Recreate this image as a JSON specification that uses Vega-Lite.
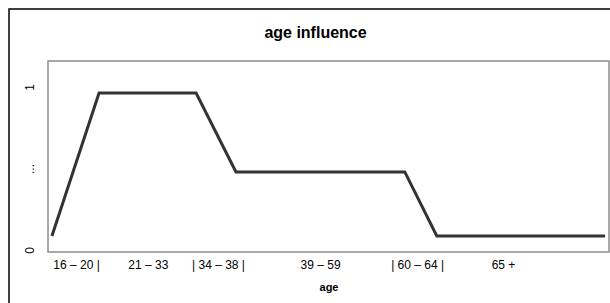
{
  "$schema": "https://vega.github.io/schema/vega-lite/v6.json",
  "autosize": {"type": "none"},
  "padding": {"left": 48, "top": 61, "right": 1, "bottom": 51},
  "width": 561,
  "height": 191,
  "background": "white",
  "title": {"text": "age influence", "fontSize": 16, "fontWeight": "bold", "font": "Liberation Sans", "color": "#000", "anchor": "middle", "frame": "group", "dx": -13, "offset": -33},
  "config": {
    "view": {"stroke": "#8c8c8c", "strokeWidth": 1.5},
    "font": "Liberation Sans"
  },
  "datasets": {
    "curve": [
      {"pos": 0.7, "influence": 0.086},
      {"pos": 9.1, "influence": 0.963},
      {"pos": 26.4, "influence": 0.963},
      {"pos": 33.5, "influence": 0.479},
      {"pos": 63.6, "influence": 0.479},
      {"pos": 69.3, "influence": 0.086},
      {"pos": 99.3, "influence": 0.086}
    ],
    "frame": [
      {"x": -6.95, "x2": 115, "y": -0.8, "y2": 1.4785}
    ]
  },
  "layer": [
    {
      "data": {"name": "curve"},
      "mark": {"type": "line", "color": "#333333", "strokeWidth": 3, "strokeJoin": "miter"},
      "encoding": {
        "x": {
          "field": "pos", "type": "quantitative",
          "scale": {"domain": [0, 100], "nice": false, "zero": false},
          "axis": {
            "title": "age", "titleFontSize": 11, "titleFontWeight": "bold", "titleColor": "#000", "titlePadding": 11,
            "domain": false, "ticks": false, "grid": false,
            "values": [5, 17.8, 30.3, 48.5, 65.8, 81.1],
            "labelExpr": "datum.value < 10 ? '16 – 20 |' : datum.value < 20 ? '21 – 33' : datum.value < 40 ? '| 34 – 38 |' : datum.value < 60 ? '39 – 59' : datum.value < 70 ? '| 60 – 64 |' : '65 +'",
            "labelFontSize": 12, "labelColor": "#000", "labelPadding": 7, "labelFlush": false, "labelOverlap": false
          }
        },
        "y": {
          "field": "influence", "type": "quantitative",
          "scale": {"domain": [-0.0123, 1.1595], "nice": false, "zero": false},
          "axis": {
            "title": null, "domain": false, "ticks": false, "grid": false,
            "values": [0, 0.5, 1],
            "labelExpr": "datum.value == 0.5 ? '...' : datum.value == 0 ? '0' : '1'",
            "labelAngle": -90, "labelFontSize": 12, "labelColor": "#000", "labelPadding": 12, "labelFlush": false, "labelOverlap": false
          }
        }
      }
    },
    {
      "data": {"name": "frame"},
      "mark": {"type": "rect", "fill": null, "stroke": "#000", "strokeWidth": 1.5, "clip": false},
      "encoding": {
        "x": {"field": "x", "type": "quantitative"},
        "x2": {"field": "x2"},
        "y": {"field": "y", "type": "quantitative"},
        "y2": {"field": "y2"}
      }
    }
  ]
}
